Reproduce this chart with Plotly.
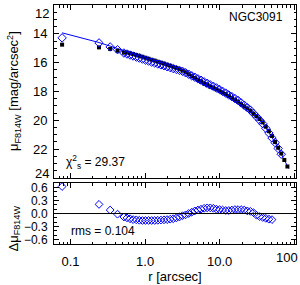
import plotly.graph_objects as go

# ---- data ----
r_pts = [0.077, 0.241, 0.34, 0.427, 0.52, 0.572, 0.629, 0.692, 0.761, 0.837, 0.921, 1.013,
         1.114, 1.226, 1.348, 1.483, 1.631, 1.794, 1.974, 2.171, 2.388, 2.627, 2.890, 3.179,
         3.497, 3.846, 4.231, 4.654, 5.120, 5.632, 6.195, 6.814, 7.496, 8.245, 9.070, 9.977,
         10.97, 12.07, 13.28, 14.61, 16.07, 17.68, 19.44, 21.39, 23.53, 25.88, 28.47, 31.31,
         34.45, 37.89, 41.68, 45.85, 50.44, 55.48, 61.03, 67.13, 73.85, 81.23]

mu_diamond = [14.28, 14.63, 14.91, 15.10, 15.33, 15.40, 15.47, 15.54, 15.61, 15.68, 15.75, 15.82,
              15.89, 15.96, 16.02, 16.09, 16.15, 16.21, 16.28, 16.34, 16.41, 16.47, 16.53, 16.60,
              16.70, 16.80, 16.91, 17.01, 17.12, 17.22, 17.33, 17.43, 17.54, 17.64, 17.75, 17.86,
              17.99, 18.11, 18.24, 18.36, 18.49, 18.62, 18.79, 18.95, 19.12, 19.29, 19.52, 19.75,
              19.98, 20.23, 20.55, 20.88, 21.22, 21.54, 21.95, 22.35]

mu_square = [14.75, 14.94, 15.05, 15.18, 15.30, 15.30, 15.35, 15.40, 15.465, 15.525, 15.59, 15.66,
             15.73, 15.80, 15.86, 15.935, 16.00, 16.065, 16.14, 16.21, 16.29, 16.37, 16.45, 16.55,
             16.67, 16.80, 16.94, 17.07, 17.20, 17.32, 17.45, 17.56, 17.67, 17.76, 17.85, 17.95,
             18.07, 18.18, 18.31, 18.44, 18.58, 18.71, 18.88, 19.03, 19.18, 19.34, 19.54, 19.71,
             19.91, 20.14, 20.44, 20.75, 21.08, 21.50, 21.90, 22.30, 22.75, 23.20]

residual = [0.62, 0.21, 0.08, -0.015, -0.08, -0.10, -0.12, -0.14, -0.145, -0.155, -0.16, -0.16,
            -0.16, -0.16, -0.16, -0.155, -0.15, -0.145, -0.14, -0.13, -0.12, -0.10, -0.08, -0.05,
            -0.03, 0.0, 0.03, 0.06, 0.08, 0.10, 0.12, 0.13, 0.13, 0.12, 0.10, 0.09,
            0.08, 0.07, 0.07, 0.08, 0.09, 0.09, 0.09, 0.08, 0.06, 0.05, 0.02, -0.04,
            -0.07, -0.09, -0.11, -0.13, -0.14]

r_line = [0.077, 0.24, 0.43, 0.7, 1.0, 2.0, 3.2, 5.0, 9.0, 17.0, 26.0, 38.0, 55.0, 85.0]
mu_line = [13.93, 14.60, 15.02, 15.45, 15.72, 16.20, 16.55, 17.05, 17.73, 18.56, 19.28, 20.20, 21.50, 23.35]

x_tickvals = [0.1, 1, 10, 100]
x_ticktext = ["0.1", "1.0", "10.0", ""]        # "100" drawn as a shifted label below
x_minor = [0.06, 0.07, 0.08, 0.09, 0.2, 0.3, 0.4, 0.5, 0.6, 0.7, 0.8, 0.9,
           2, 3, 4, 5, 6, 7, 8, 9, 20, 30, 40, 50, 60, 70, 80, 90]
y_top_ticks = [12, 14, 16, 18, 20, 22, 24]
y_top_text = ["", "14", "16", "18", "20", "22", ""]   # edge labels drawn shifted inward
y_bot_ticks = [-0.6, -0.3, 0.0, 0.3, 0.6]
y_bot_text = ["\u22120.6", "\u22120.3", "0.0", "0.3", "0.6"]

galaxy = "NGC3091"
chi2_text = "\u03c7<sup>2</sup><sub>s</sub> = 29.37"
rms_text = "rms = 0.104"

FONT = "Liberation Sans"
BLUE = "#0000ff"

fig = go.Figure()
fig.add_trace(go.Scatter(x=r_line, y=mu_line, mode="lines",
                         line=dict(color=BLUE, width=1), xaxis="x", yaxis="y"))
fig.add_trace(go.Scatter(x=r_pts, y=mu_square, mode="markers",
                         marker=dict(symbol="square", size=4, color="black"),
                         xaxis="x", yaxis="y"))
fig.add_trace(go.Scatter(x=r_pts[:len(mu_diamond)], y=mu_diamond, mode="markers",
                         marker=dict(symbol="diamond-open", size=6.5, color=BLUE,
                                     line=dict(width=1, color=BLUE)),
                         xaxis="x", yaxis="y"))
fig.add_trace(go.Scatter(x=r_pts[:len(residual)], y=residual, mode="markers",
                         marker=dict(symbol="diamond-open", size=6, color=BLUE,
                                     line=dict(width=1, color=BLUE)),
                         xaxis="x2", yaxis="y2"))

xr = [-1.222, 2.025]
common_x = dict(type="log", range=xr, autorange=False, ticks="inside", ticklen=5, tickwidth=1,
                tickcolor="black", showline=True, linecolor="black", linewidth=1,
                mirror="allticks", showgrid=False, zeroline=False,
                tickvals=x_tickvals, ticktext=x_ticktext,
                minor=dict(tickvals=x_minor, ticks="inside", ticklen=2.5,
                           tickcolor="black", showgrid=False),
                tickfont=dict(family=FONT, size=13, color="black"))

fig.update_layout(
    width=300, height=285,
    margin=dict(l=54, r=4, t=5, b=41),
    paper_bgcolor="white", plot_bgcolor="white",
    showlegend=False,
    font=dict(family=FONT, size=13, color="black"),
    xaxis=dict(common_x, domain=[0, 1], anchor="y", showticklabels=False),
    xaxis2=dict(common_x, domain=[0, 1], anchor="y2",
                ticklabelstandoff=5,
                title=dict(text="r [arcsec]", font=dict(family=FONT, size=13), standoff=2)),
    yaxis=dict(domain=[0.276, 1], range=[24, 12], autorange=False, ticks="inside", ticklen=5,
               tickcolor="black", showline=True, linecolor="black", mirror="allticks",
               showgrid=False, zeroline=False, tickvals=y_top_ticks, ticktext=y_top_text,
               minor=dict(dtick=0.5, ticks="inside", ticklen=2.5, tickcolor="black",
                          showgrid=False),
               tickfont=dict(family=FONT, size=13, color="black"), ticklabelstandoff=3),
    yaxis2=dict(domain=[0, 0.255], range=[-0.7, 0.7], autorange=False, ticks="inside", ticklen=5,
                tickcolor="black", showline=True, linecolor="black", mirror="allticks",
                showgrid=False, zeroline=False, tickvals=y_bot_ticks, ticktext=y_bot_text,
                minor=dict(dtick=0.1, tick0=0, ticks="inside", ticklen=2.5,
                           tickcolor="black", showgrid=False),
                tickfont=dict(family=FONT, size=12, color="black"), ticklabelstandoff=3),
)

fig.add_shape(type="line", xref="x2 domain", yref="y2", x0=0, x1=1, y0=0, y1=0,
              line=dict(color="black", width=1))

tick_font = dict(family=FONT, size=13, color="black")
# edge tick labels, shifted inward as in the reference
fig.add_annotation(text="12", xref="paper", yref="paper", x=-0.0124, y=0.9665,
                   xanchor="right", yanchor="middle", showarrow=False, font=tick_font)
fig.add_annotation(text="24", xref="paper", yref="paper", x=-0.0124, y=0.297,
                   xanchor="right", yanchor="middle", showarrow=False, font=tick_font)
fig.add_annotation(text="100", xref="paper", yref="paper", x=0.962, y=-0.058,
                   xanchor="center", yanchor="middle", showarrow=False, font=tick_font)

fig.add_annotation(text=galaxy, xref="x domain", yref="y domain", x=0.955, y=0.93,
                   xanchor="right", yanchor="middle", showarrow=False,
                   font=dict(family=FONT, size=12, color="black"))
fig.add_annotation(text=chi2_text, xref="x domain", yref="y domain", x=0.04, y=0.095,
                   xanchor="left", yanchor="middle", showarrow=False,
                   font=dict(family=FONT, size=12, color="black"))
fig.add_annotation(text=rms_text, xref="x2 domain", yref="y2 domain", x=0.063, y=0.21,
                   xanchor="left", yanchor="middle", showarrow=False,
                   font=dict(family=FONT, size=12, color="black"))
fig.add_annotation(text="\u03bc<sub>F814W</sub> [mag/arcsec<sup>2</sup>]",
                   xref="paper", yref="paper", x=-0.165, y=0.64, textangle=-90,
                   xanchor="center", yanchor="middle", showarrow=False,
                   font=dict(family=FONT, size=13, color="black"))
fig.add_annotation(text="\u0394\u03bc<sub>F814W</sub>",
                   xref="paper", yref="paper", x=-0.165, y=0.065, textangle=-90,
                   xanchor="center", yanchor="middle", showarrow=False,
                   font=dict(family=FONT, size=13, color="black"))

fig.write_html("out.html", config={"displayModeBar": False},
               post_script="document.body.style.margin='0';")
